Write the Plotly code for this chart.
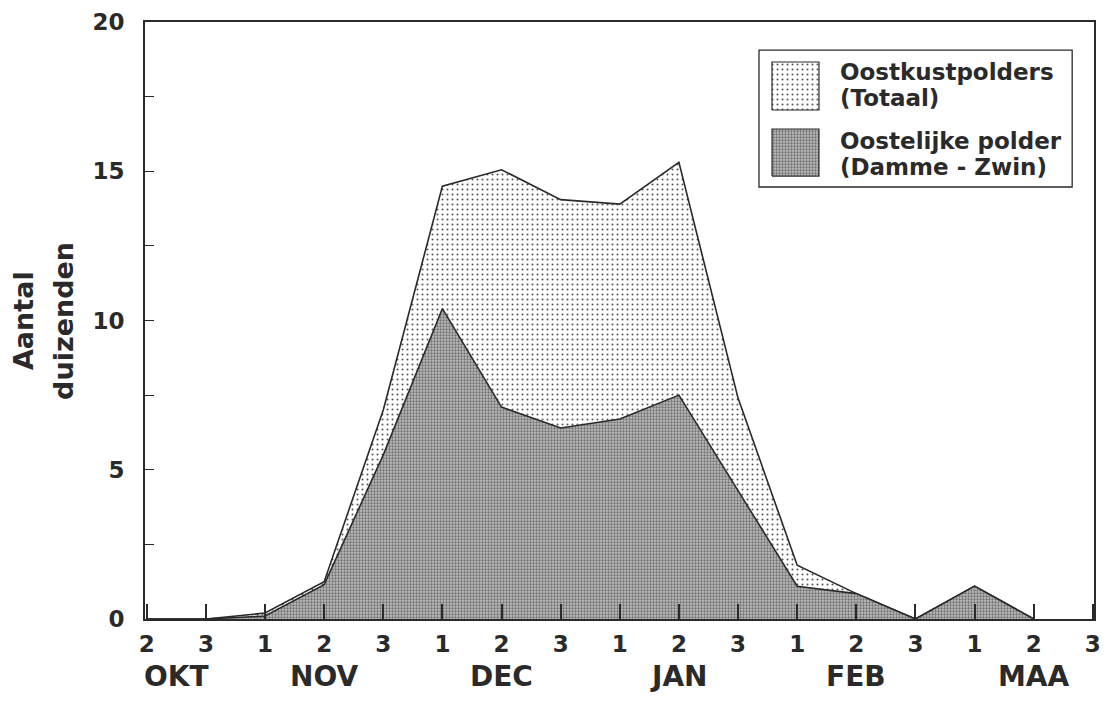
import plotly.graph_objects as go

# ---- data -------------------------------------------------------------
decade_labels = ["2", "3", "1", "2", "3", "1", "2", "3", "1", "2", "3",
                 "1", "2", "3", "1", "2", "3"]
month_labels = ["OKT", "NOV", "DEC", "JAN", "FEB", "MAA"]
month_pos = [0.5, 3, 6, 9, 12, 15]          # decade index of month label centre

# thousands of geese per decade (index 0 = OKT decade 2)
totaal = [0, 0, 0.2, 1.25, 7.0, 14.5, 15.05, 14.05, 13.9, 15.3, 7.4,
          1.8, 0.85, 0, 1.1, 0]
oostelijk = [0, 0, 0.1, 1.15, 5.5, 10.4, 7.1, 6.4, 6.7, 7.5, 4.3,
             1.1, 0.85, 0, 1.1, 0]

legend_names = [["Oostkustpolders", "(Totaal)"],
                ["Oostelijke polder", "(Damme - Zwin)"]]

x_idx = list(range(len(totaal)))

FONT = "DejaVu Sans"
INK = "#2a2a2a"

light_pattern = dict(shape=".", size=5, solidity=0.13, fgcolor="#555555",
                     bgcolor="#ffffff", fillmode="replace")
dark_pattern = dict(shape=".", size=3, solidity=0.45, fgcolor="#707070",
                    bgcolor="#bdbdbd", fillmode="replace")

fig = go.Figure()

fig.add_trace(go.Scatter(
    x=x_idx, y=totaal, mode="lines", fill="tozeroy",
    line=dict(color=INK, width=1.6), fillpattern=light_pattern,
    showlegend=False, hoverinfo="skip"))
fig.add_trace(go.Scatter(
    x=x_idx, y=oostelijk, mode="lines", fill="tozeroy",
    line=dict(color=INK, width=1.6), fillpattern=dark_pattern,
    showlegend=False, hoverinfo="skip"))

# ---- custom legend (on a hidden paper-like axis pair) -----------------
sw_x = [0.6607, 0.7102]
sw_rows = [(0.8526, 0.933), (0.742, 0.8208)]
for (y0, y1), pat in zip(sw_rows, [light_pattern, dark_pattern]):
    fig.add_trace(go.Scatter(
        x=[sw_x[0], sw_x[1], sw_x[1], sw_x[0], sw_x[0]],
        y=[y0, y0, y1, y1, y0], mode="lines", fill="toself",
        line=dict(color=INK, width=1.2), fillpattern=pat,
        xaxis="x2", yaxis="y2", showlegend=False, hoverinfo="skip"))

fig.add_shape(type="rect", xref="paper", yref="paper",
              x0=0.647, x1=0.977, y0=0.7236, y1=0.953,
              line=dict(color=INK, width=1.3), layer="above")

leg_y = [[0.916, 0.873], [0.8007, 0.757]]
for names, ys in zip(legend_names, leg_y):
    for txt, yy in zip(names, ys):
        fig.add_annotation(x=0.730, y=yy, xref="paper", yref="paper",
                           text=txt, showarrow=False, xanchor="left",
                           yanchor="middle",
                           font=dict(family=FONT, size=23, color=INK,
                                     weight="bold"))

# ---- month labels ------------------------------------------------------
for m, p in zip(month_labels, month_pos):
    fig.add_annotation(x=p, y=-0.097, xref="x", yref="paper", text=m,
                       showarrow=False, xanchor="center", yanchor="middle",
                       font=dict(family=FONT, size=28, color=INK,
                                 weight="bold"))

# ---- axis title (two lines) -------------------------------------------
for txt, xp in [("Aantal", -0.128), ("duizenden", -0.086)]:
    fig.add_annotation(x=xp, y=0.5, xref="paper", yref="paper", text=txt,
                       showarrow=False, textangle=-90, xanchor="center",
                       yanchor="middle",
                       font=dict(family=FONT, size=27, color=INK,
                                 weight="bold"))

# page body has an 8px default margin -> figure drawn at (8, 8)
fig.update_layout(
    width=1103, height=693,
    margin=dict(l=137, r=17, t=14, b=82),
    paper_bgcolor="white", plot_bgcolor="white",
    showlegend=False,
    xaxis=dict(range=[-0.03, 16.02], tickmode="array",
               tickvals=list(range(len(decade_labels))),
               ticktext=decade_labels, ticks="inside", ticklen=15,
               tickwidth=1.5, tickcolor=INK, showline=True, linewidth=1.6,
               linecolor=INK, mirror=True, showgrid=False, zeroline=False,
               ticklabelstandoff=4, automargin=False,
               tickfont=dict(family=FONT, size=23, color=INK,
                             weight="bold")),
    yaxis=dict(range=[0, 20], tickmode="array", tickvals=[0, 5, 10, 15, 20],
               ticks="inside", ticklen=9, tickwidth=1.2, tickcolor=INK,
               minor=dict(tickvals=[2.5, 7.5, 12.5, 17.5], ticks="inside",
                          ticklen=9, tickwidth=1.2, tickcolor=INK),
               showline=True, linewidth=1.6, linecolor=INK, mirror=True,
               showgrid=False, zeroline=False, ticklabelstandoff=14,
               automargin=False,
               tickfont=dict(family=FONT, size=23, color=INK,
                             weight="bold")),
    xaxis2=dict(domain=[0, 1], range=[0, 1], visible=False, anchor="y2",
                overlaying="x"),
    yaxis2=dict(domain=[0, 1], range=[0, 1], visible=False, anchor="x2",
                overlaying="y"),
)

fig.write_html("out.html")
